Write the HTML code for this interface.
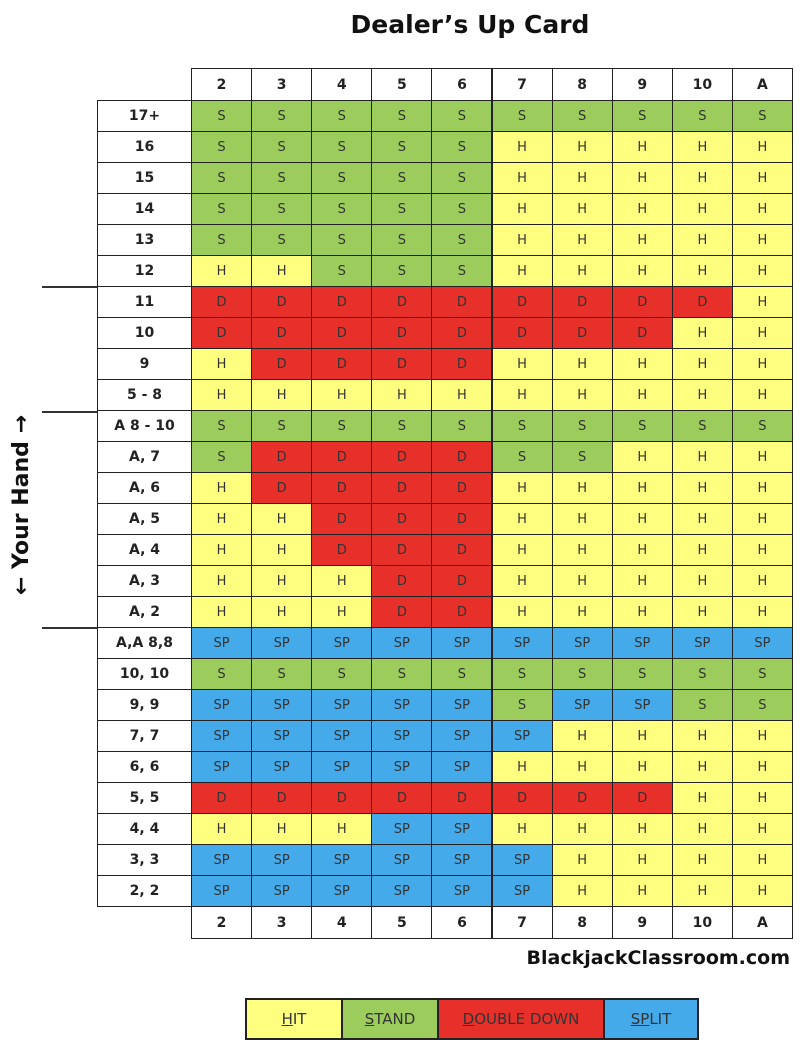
<!DOCTYPE html>
<html><head><meta charset="utf-8"><style>
body{margin:0;background:#fff;width:810px;height:1064px;position:relative;overflow:hidden;font-family:"DejaVu Sans","Liberation Sans",sans-serif;}
.abs{position:absolute;box-sizing:border-box;}
.c{display:flex;align-items:center;justify-content:center;border:1px solid #222;position:absolute;box-sizing:border-box;}
.hd{font-weight:bold;font-size:14px;color:#222;background:#fff;}
.cell{font-size:13px;color:#333;}
.lg{font-size:15px;color:#333;border:2px solid #222;}
</style></head><body>
<div class="abs" style="left:300px;top:10px;width:340px;text-align:center;font-weight:bold;font-size:25px;color:#111;">Dealer’s Up Card</div>
<div class="abs" style="left:-100px;top:492px;width:244px;height:26px;line-height:26px;text-align:center;font-weight:bold;font-size:22px;color:#111;transform:rotate(-90deg);">← Your Hand →</div>
<div class="abs" style="left:42px;top:286px;width:56px;height:2px;background:#333"></div>
<div class="abs" style="left:42px;top:411px;width:56px;height:2px;background:#333"></div>
<div class="abs" style="left:42px;top:627px;width:56px;height:2px;background:#333"></div>
<div id="grid"></div>
<div class="abs" style="left:430px;top:947px;width:360px;text-align:right;font-weight:bold;font-size:19px;color:#111;">BlackjackClassroom.com</div>
<div class="c lg" style="left:245px;top:998px;width:98px;height:42px;background:#ffff7f"><span><u>H</u>IT</span></div>
<div class="c lg" style="left:341px;top:998px;width:98px;height:42px;background:#9bcc5c"><span><u>S</u>TAND</span></div>
<div class="c lg" style="left:437px;top:998px;width:168px;height:42px;background:#e8302a"><span><u>D</u>OUBLE DOWN</span></div>
<div class="c lg" style="left:603px;top:998px;width:96px;height:42px;background:#44aaea"><span><u>SP</u>LIT</span></div>
<script>
const dealerCards=["2","3","4","5","6","7","8","9","10","A"];
const handLabels=["17+","16","15","14","13","12","11","10","9","5 - 8","A 8 - 10","A, 7","A, 6","A, 5","A, 4","A, 3","A, 2","A,A 8,8","10, 10","9, 9","7, 7","6, 6","5, 5","4, 4","3, 3","2, 2"];
const actions=[
"SSSSSSSSSS","SSSSSHHHHH","SSSSSHHHHH","SSSSSHHHHH","SSSSSHHHHH","HHSSSHHHHH",
"DDDDDDDDDH","DDDDDDDDHH","HDDDDHHHHH","HHHHHHHHHH",
"SSSSSSSSSS","SDDDDSSHHH","HDDDDHHHHH","HHDDDHHHHH","HHDDDHHHHH","HHHDDHHHHH","HHHDDHHHHH",
"PPPPPPPPPP","SSSSSSSSSS","PPPPPSPPSS","PPPPPPHHHH","PPPPPHHHHH","DDDDDDDDHH","HHHPPHHHHH","PPPPPPHHHH","PPPPPPHHHH"];
const colors={H:"#ffff7f",S:"#9bcc5c",D:"#e8302a",P:"#44aaea"};
const txt={H:"H",S:"S",D:"D",P:"SP"};
const g=document.getElementById('grid');
const X0=191,CW=60.1,LX=97,Y0=100,RH=31,HH=32;
const colX=i=>X0+i*CW, rowY=j=>Y0+j*RH;
function box(l,t,w,h,cls,bg,text){const d=document.createElement('div');d.className='c '+cls;d.style.left=l+'px';d.style.top=t+'px';d.style.width=(w+1)+'px';d.style.height=(h+1)+'px';if(bg)d.style.background=bg;d.textContent=text;g.appendChild(d);return d;}
dealerCards.forEach((c,i)=>{
  const a=box(colX(i),Y0-HH,CW,HH,'hd',null,c);
  
  
  const b=box(colX(i),rowY(handLabels.length),CW,HH,'hd',null,c);
  
  
});
handLabels.forEach((h,j)=>{
  const l=box(LX,rowY(j),X0-LX,RH,'hd',null,h);
  
  
  for(let i=0;i<dealerCards.length;i++){
    const a=actions[j][i];
    const d=box(colX(i),rowY(j),CW,RH,'cell',colors[a],txt[a]);
    
    
  }
});
</script>
</body></html>
